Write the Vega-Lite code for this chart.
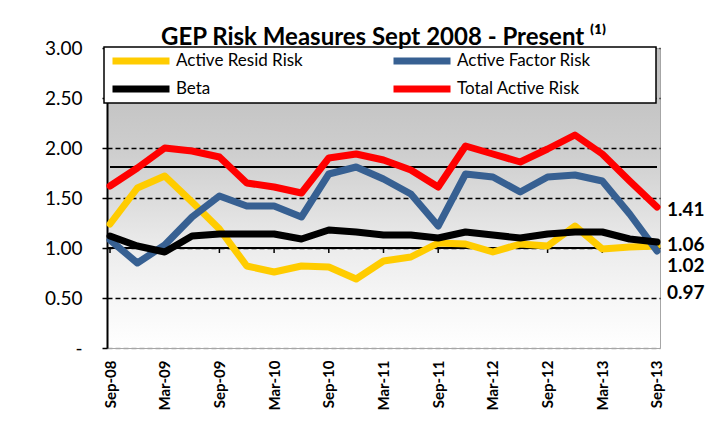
{
  "$schema": "https://vega.github.io/schema/vega-lite/v6.json",
  "width": 553,
  "height": 300,
  "autosize": {"type": "none"},
  "padding": {"left": 107, "top": 48, "right": 63, "bottom": 90},
  "background": "white",
  "title": {
    "text": "GEP Risk Measures Sept 2008 - Present ⁽¹⁾",
    "font": "Lato",
    "fontSize": 24,
    "fontWeight": "bold",
    "color": "black",
    "anchor": "middle",
    "frame": "group",
    "offset": 0,
    "dy": 11
  },
  "data": {
    "values": [
      {"date": "Sep-08", "Active Resid Risk": 1.24, "Active Factor Risk": 1.08, "Beta": 1.12, "Total Active Risk": 1.62},
      {"date": "Dec-08", "Active Resid Risk": 1.60, "Active Factor Risk": 0.85, "Beta": 1.02, "Total Active Risk": 1.80},
      {"date": "Mar-09", "Active Resid Risk": 1.72, "Active Factor Risk": 1.03, "Beta": 0.96, "Total Active Risk": 2.00},
      {"date": "Jun-09", "Active Resid Risk": 1.46, "Active Factor Risk": 1.31, "Beta": 1.12, "Total Active Risk": 1.97},
      {"date": "Sep-09", "Active Resid Risk": 1.19, "Active Factor Risk": 1.52, "Beta": 1.14, "Total Active Risk": 1.91},
      {"date": "Dec-09", "Active Resid Risk": 0.82, "Active Factor Risk": 1.42, "Beta": 1.14, "Total Active Risk": 1.65},
      {"date": "Mar-10", "Active Resid Risk": 0.76, "Active Factor Risk": 1.42, "Beta": 1.14, "Total Active Risk": 1.61},
      {"date": "Jun-10", "Active Resid Risk": 0.82, "Active Factor Risk": 1.31, "Beta": 1.09, "Total Active Risk": 1.55},
      {"date": "Sep-10", "Active Resid Risk": 0.81, "Active Factor Risk": 1.74, "Beta": 1.18, "Total Active Risk": 1.90},
      {"date": "Dec-10", "Active Resid Risk": 0.69, "Active Factor Risk": 1.81, "Beta": 1.16, "Total Active Risk": 1.94},
      {"date": "Mar-11", "Active Resid Risk": 0.87, "Active Factor Risk": 1.69, "Beta": 1.13, "Total Active Risk": 1.88},
      {"date": "Jun-11", "Active Resid Risk": 0.91, "Active Factor Risk": 1.54, "Beta": 1.13, "Total Active Risk": 1.78},
      {"date": "Sep-11", "Active Resid Risk": 1.05, "Active Factor Risk": 1.22, "Beta": 1.10, "Total Active Risk": 1.61},
      {"date": "Dec-11", "Active Resid Risk": 1.04, "Active Factor Risk": 1.74, "Beta": 1.16, "Total Active Risk": 2.02},
      {"date": "Mar-12", "Active Resid Risk": 0.96, "Active Factor Risk": 1.71, "Beta": 1.13, "Total Active Risk": 1.94},
      {"date": "Jun-12", "Active Resid Risk": 1.04, "Active Factor Risk": 1.56, "Beta": 1.10, "Total Active Risk": 1.86},
      {"date": "Sep-12", "Active Resid Risk": 1.02, "Active Factor Risk": 1.71, "Beta": 1.14, "Total Active Risk": 1.99},
      {"date": "Dec-12", "Active Resid Risk": 1.22, "Active Factor Risk": 1.73, "Beta": 1.16, "Total Active Risk": 2.13},
      {"date": "Mar-13", "Active Resid Risk": 0.99, "Active Factor Risk": 1.67, "Beta": 1.16, "Total Active Risk": 1.94},
      {"date": "Jun-13", "Active Resid Risk": 1.01, "Active Factor Risk": 1.34, "Beta": 1.09, "Total Active Risk": 1.67},
      {"date": "Sep-13", "Active Resid Risk": 1.02, "Active Factor Risk": 0.97, "Beta": 1.06, "Total Active Risk": 1.41}
    ]
  },
  "encoding": {
    "x": {
      "field": "date",
      "type": "ordinal",
      "scale": {
        "type": "point",
        "padding": 0.11,
        "domain": ["Sep-08", "Dec-08", "Mar-09", "Jun-09", "Sep-09", "Dec-09", "Mar-10", "Jun-10", "Sep-10", "Dec-10", "Mar-11", "Jun-11", "Sep-11", "Dec-11", "Mar-12", "Jun-12", "Sep-12", "Dec-12", "Mar-13", "Jun-13", "Sep-13"]
      },
      "axis": {
        "title": null,
        "labelAngle": 270,
        "labelAlign": "right",
        "labelBaseline": "middle",
        "labelFont": "Lato",
        "labelFontWeight": "bold",
        "labelFontSize": 15,
        "labelColor": "black",
        "ticks": false,
        "domain": false,
        "grid": false,
        "labelPadding": 12,
        "labelOverlap": false,
        "labelExpr": "indexof(datum.label, 'Dec') >= 0 || indexof(datum.label, 'Jun') >= 0 ? '' : datum.label"
      }
    }
  },
  "layer": [
    {
      "mark": {"type": "rule", "color": "black", "strokeWidth": 2},
      "encoding": {
        "x": null,
        "y": {
          "datum": 1,
          "type": "quantitative",
          "scale": {"domain": [0, 3], "nice": false},
          "axis": {
            "title": null,
            "values": [0, 0.5, 1, 1.5, 2, 2.5, 3],
            "labelExpr": "datum.value == 0 ? '-' : format(datum.value, '.2f')",
            "labelFont": "Lato",
            "labelFontSize": 19,
            "labelColor": "black",
            "domainColor": "black",
            "domainWidth": 2,
            "tickColor": "black",
            "tickWidth": 1.5,
            "tickSize": 5,
            "labelPadding": 20,
            "grid": true,
            "gridColor": {"condition": {"test": "datum.value == 0", "value": "#a6a6a6"}, "value": "black"},
            "gridDash": [5, 3],
            "gridWidth": 1.3
          }
        }
      }
    },
    {
      "transform": [{"filter": "indexof(datum.date, 'Sep') == 0 || indexof(datum.date, 'Mar') == 0"}],
      "mark": {"type": "rule", "color": "black", "strokeWidth": 1.5},
      "encoding": {
        "y": {"datum": 1, "type": "quantitative"},
        "y2": {"datum": 0.95}
      }
    },
    {
      "mark": {"type": "rule", "color": "black", "strokeWidth": 2},
      "encoding": {
        "x": {"datum": "Sep-08", "type": "ordinal"},
        "x2": {"datum": "Sep-13"},
        "y": {"datum": 1.81, "type": "quantitative"}
      }
    },
    {
      "transform": [{"fold": ["Active Resid Risk", "Active Factor Risk", "Beta", "Total Active Risk"], "as": ["series", "value"]}],
      "mark": {"type": "line", "strokeJoin": "round", "strokeCap": "round"},
      "encoding": {
        "y": {"field": "value", "type": "quantitative"},
        "color": {
          "field": "series",
          "type": "nominal",
          "scale": {
            "domain": ["Active Resid Risk", "Active Factor Risk", "Beta", "Total Active Risk"],
            "range": ["#FFCC00", "#376092", "#000000", "#FF0000"]
          },
          "legend": {
            "title": null,
            "orient": "none",
            "legendX": -3,
            "legendY": -1,
            "direction": "horizontal",
            "columns": 2,
            "symbolType": "stroke",
            "symbolSize": 3249,
            "clipHeight": 18,
            "columnPadding": 87,
            "rowPadding": 10,
            "padding": 5,
            "labelFont": "Lato",
            "labelFontSize": 17,
            "labelOffset": 3,
            "labelColor": "black",
            "labelLimit": 400,
            "fillColor": "white",
            "strokeColor": "black",
            "labelExpr": "datum.label == 'Active Factor Risk' || datum.label == 'Total Active Risk' ? datum.label + '\u2800\u2800\u2800\u2800\u2800' : datum.label",
            "encode": {"legend": {"update": {"strokeWidth": {"value": 1.5}}}}
          }
        },
        "strokeWidth": {
          "field": "series",
          "type": "nominal",
          "scale": {
            "domain": ["Active Resid Risk", "Active Factor Risk", "Beta", "Total Active Risk"],
            "range": [7, 7, 2.6, 3.5]
          },
          "legend": {
            "title": null,
            "orient": "none",
            "legendX": -3,
            "legendY": -1,
            "direction": "horizontal",
            "columns": 2,
            "symbolType": "stroke",
            "symbolSize": 3249,
            "clipHeight": 18,
            "columnPadding": 87,
            "rowPadding": 10,
            "padding": 5,
            "labelFont": "Lato",
            "labelFontSize": 17,
            "labelOffset": 3,
            "labelColor": "black",
            "labelLimit": 400,
            "fillColor": "white",
            "strokeColor": "black",
            "labelExpr": "datum.label == 'Active Factor Risk' || datum.label == 'Total Active Risk' ? datum.label + '\u2800\u2800\u2800\u2800\u2800' : datum.label",
            "encode": {"legend": {"update": {"strokeWidth": {"value": 1.5}}}}
          }
        }
      }
    },
    {
      "transform": [
        {"fold": ["Active Resid Risk", "Active Factor Risk", "Beta", "Total Active Risk"], "as": ["series", "value"]},
        {"filter": "datum.date == 'Sep-13' && (datum.series == 'Total Active Risk' || datum.series == 'Beta')"}
      ],
      "mark": {"type": "text", "align": "left", "baseline": "middle", "dx": 10, "dy": 3, "font": "Lato", "fontSize": 19, "fontWeight": "bold", "color": "black"},
      "encoding": {
        "y": {"field": "value", "type": "quantitative"},
        "text": {"field": "value", "type": "quantitative", "format": ".2f"}
      }
    },
    {
      "transform": [
        {"fold": ["Active Resid Risk", "Active Factor Risk", "Beta", "Total Active Risk"], "as": ["series", "value"]},
        {"filter": "datum.date == 'Sep-13' && datum.series == 'Active Resid Risk'"}
      ],
      "mark": {"type": "text", "align": "left", "baseline": "middle", "dx": 10, "dy": 20, "font": "Lato", "fontSize": 19, "fontWeight": "bold", "color": "black"},
      "encoding": {
        "y": {"field": "value", "type": "quantitative"},
        "text": {"field": "value", "type": "quantitative", "format": ".2f"}
      }
    },
    {
      "transform": [
        {"fold": ["Active Resid Risk", "Active Factor Risk", "Beta", "Total Active Risk"], "as": ["series", "value"]},
        {"filter": "datum.date == 'Sep-13' && datum.series == 'Active Factor Risk'"}
      ],
      "mark": {"type": "text", "align": "left", "baseline": "middle", "dx": 10, "dy": 42, "font": "Lato", "fontSize": 19, "fontWeight": "bold", "color": "black"},
      "encoding": {
        "y": {"field": "value", "type": "quantitative"},
        "text": {"field": "value", "type": "quantitative", "format": ".2f"}
      }
    }
  ],
  "config": {
    "font": "Lato",
    "view": {
      "stroke": "#a6a6a6",
      "strokeWidth": 1,
      "fill": {
        "gradient": "linear",
        "x1": 0, "y1": 0, "x2": 0, "y2": 1,
        "stops": [
          {"offset": 0, "color": "#c0c0c0"},
          {"offset": 0.2, "color": "#c6c6c6"},
          {"offset": 0.35, "color": "#cecece"},
          {"offset": 0.5, "color": "#dcdcdc"},
          {"offset": 0.67, "color": "#ececec"},
          {"offset": 0.83, "color": "#f6f6f6"},
          {"offset": 1, "color": "#ffffff"}
        ]
      }
    }
  }
}
